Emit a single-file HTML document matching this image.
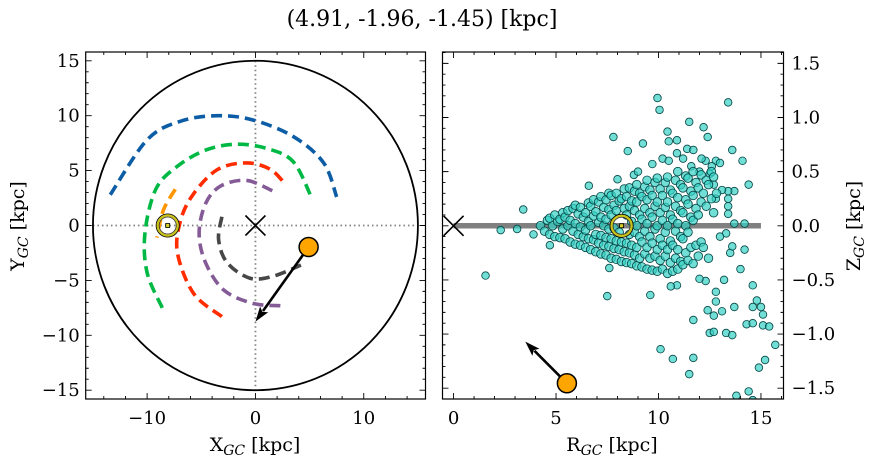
<!DOCTYPE html>
<html><head><meta charset="utf-8">
<style>
html,body{margin:0;padding:0;background:#fff;}
svg{display:block;font-family:"DejaVu Serif","Liberation Serif",serif;}
</style></head>
<body>
<svg id="fig" width="874" height="464" viewBox="0 0 874 464">
<text x="422" y="26" text-anchor="middle" font-size="22">(4.91, -1.96, -1.45) [kpc]</text>
<g id="left"></g>
<g id="right"></g>
<text x="255" y="451" text-anchor="middle" font-size="19">X<tspan font-style="italic" font-size="14" dy="4">GC</tspan><tspan dy="-4"> [kpc]</tspan></text>
<text x="612" y="451" text-anchor="middle" font-size="19">R<tspan font-style="italic" font-size="14" dy="4">GC</tspan><tspan dy="-4"> [kpc]</tspan></text>
<text transform="translate(24,226) rotate(-90)" text-anchor="middle" font-size="19">Y<tspan font-style="italic" font-size="14" dy="4">GC</tspan><tspan dy="-4"> [kpc]</tspan></text>
<text transform="translate(860,226) rotate(-90)" text-anchor="middle" font-size="19">Z<tspan font-style="italic" font-size="14" dy="4">GC</tspan><tspan dy="-4"> [kpc]</tspan></text>
</svg>
<script>
// ---- left panel data (kpc) ----
const blueX=[-13.4,-10.0,-6.9,-3.5,-0.2,3.5,6.3,7.5];
const blueY=[2.8,7.8,9.5,10.0,9.6,8.1,5.7,2.6];
const greenX=[-8.6,-10,-10.2,-9.2,-7.2,-4.5,-1.7,1.1,3.5,5.2];
const greenY=[-7.5,-4.3,-0.7,3.3,5.4,6.9,7.4,7.0,5.8,2.5];
const redX=[-3.1,-5.7,-7.2,-6.9,-5.7,-3.5,-0.8,1.4,2.8];
const redY=[-8.3,-6.2,-2.5,0.5,2.9,5.1,5.7,5.1,3.7];
const purpleX=[2.3,-0.2,-2.9,-4.6,-5.2,-4.6,-3.2,-0.8,1.7];
const purpleY=[-7.3,-7.1,-5.9,-3.4,-0.7,2.0,3.6,4.1,3.1];
const grayX=[-3.1,-3.4,-2.6,-0.5,1.7,4.2];
const grayY=[0.8,-1.3,-3.4,-4.8,-4.6,-3.6];
const orangeX=[-7.4,-8.5,-9.1];
const orangeY=[3.3,1.4,-1.1];
const sunXY=[-8.1,0];
const objXY=[4.91,-1.96];
const arrowXY=[0,-8.75];
const xTicks=[-10,0,10];
const yTicks=[-15,-10,-5,0,5,10,15];
// ---- right panel data ----
const sunRZ=[8.2,0];
const objRZ=[5.53,-1.455];
const arrowRZ=[3.5,-1.07];
const rTicks=[0,5,10,15];
const zTicks=[-1.5,-1.0,-0.5,0.0,0.5,1.0,1.5];
const starR=[9.95,10.05,13.4,11.5,7.8,10.44,12.2,10.5,10.9,12.4,9.24,8.5,13.6,10.2,10.9,11.4,11.7,9.7,14.1,14.4,8.8,6.6,3.4,2.3,3.1,3.9,4.7,1.56,14.2,13.7,14.2,14.0,14.6,14.8,14.6,13.7,15.0,15.1,14.3,14.6,15.1,15.4,15.7,15.2,14.9,14.4,14.6,13.8,13.3,13.6,12.5,12.7,13.1,12.7,12.4,12.8,12.8,13.2,12.3,12.0,11.7,11.7,11.5,10.7,10.1,9.6,7.5,7.6,10.9,10.6,13.5,13.6,13.3,13.4,13.4,13.4,13.7,13.4,13.1,
8.0,9.0,10.5,11.2,12.3,12.8,13.0,12.1,12.6,12.8,13.0,12.5,12.7,11.6,12.0];
const starZ=[1.18,1.07,1.14,0.96,0.82,0.87,0.91,0.78,0.79,0.82,0.76,0.69,0.70,0.62,0.67,0.71,0.70,0.57,0.60,0.38,0.47,0.37,0.15,-0.04,-0.03,-0.08,-0.18,-0.46,0.02,0.02,-0.22,-0.40,-0.55,-0.69,-0.75,-0.75,-0.75,-0.82,-0.91,-0.90,-0.92,-0.93,-1.10,-1.24,-1.31,-1.53,-1.61,-1.57,-0.99,-1.01,-0.99,-0.98,-0.79,-0.83,-0.78,-0.70,-0.61,-0.50,-0.51,-0.49,-0.87,-1.22,-1.37,-1.23,-1.14,-0.64,-0.65,-0.39,-0.55,-0.56,-0.25,-0.19,-0.07,0.11,0.18,0.25,0.32,0.32,0.33,
0.43,0.5,0.6,0.62,0.6,0.6,0.58,0.62,0.55,0.25,-0.1,0.48,0.38,0.55,0.5];
// dense disk cluster: one R value per row, list of Z values for that row
const clusterR=[4.3,4.5,4.75,5.0,5.25,5.5,5.75,6.0,6.25,6.5,6.75,7.0,7.25,7.5,7.75,8.0,8.25,8.5,8.75,9.0,9.25,9.5,9.75,10.0,10.25,10.5,10.75,11.0,11.25,11.5,11.75,12.0,12.25,12.5,12.75];
const clusterZ=[[0.0],[-0.05,0.05],[-0.08,0.0,0.07],[-0.1,0.04,0.1],[-0.11,-0.03,0.06,0.12],[-0.12,0.0,0.08,0.14],[-0.15,-0.05,0.05,0.16],[-0.17,-0.08,0.02,0.11,0.19],[-0.18,-0.1,-0.01,0.08,0.17],[-0.2,-0.12,-0.04,0.04,0.12,0.21],[-0.22,-0.13,0.0,0.09,0.18,0.24],[-0.24,-0.16,-0.08,0.03,0.13,0.22],[-0.26,-0.18,-0.09,0.0,0.08,0.17,0.27],[-0.27,-0.19,-0.11,-0.03,0.06,0.15,0.24,0.3],[-0.3,-0.21,-0.12,-0.02,0.1,0.19,0.28],[-0.31,-0.22,-0.14,-0.06,0.14,0.23,0.3],[-0.33,-0.24,-0.15,0.16,0.25,0.34],[-0.34,-0.25,-0.16,-0.08,0.1,0.18,0.27,0.35],[-0.35,-0.27,-0.18,-0.06,0.04,0.14,0.23,0.32],[-0.37,-0.3,-0.2,-0.1,0.0,0.1,0.22,0.3,0.38],[-0.38,-0.26,-0.15,-0.05,0.06,0.16,0.27,0.36],[-0.4,-0.3,-0.2,-0.1,0.02,0.12,0.24,0.33,0.42],[-0.41,-0.28,-0.16,-0.03,0.08,0.18,0.28,0.4],[-0.42,-0.32,-0.22,-0.12,0.0,0.12,0.22,0.34,0.44],[-0.4,-0.28,-0.18,-0.06,0.05,0.17,0.28,0.4],[-0.44,-0.34,-0.22,-0.14,0.0,0.1,0.22,0.33,0.45],[-0.42,-0.3,-0.18,-0.05,0.06,0.18,0.3,0.42],[-0.4,-0.33,-0.22,-0.1,0.02,0.14,0.26,0.38,0.5],[-0.36,-0.25,-0.12,0.0,0.12,0.24,0.35,0.46],[-0.32,-0.2,-0.06,0.08,0.2,0.32,0.44],[-0.35,-0.18,0.05,0.16,0.28,0.4,0.5],[-0.28,-0.15,0.1,0.22,0.35,0.47],[-0.2,0.18,0.3,0.42],[-0.3,0.25,0.38,0.5],[0.12,0.3,0.45]];

const NS='http://www.w3.org/2000/svg';
function mk(parent,tag,attrs){const e=document.createElementNS(NS,tag);for(const k in attrs)e.setAttribute(k,attrs[k]);parent.appendChild(e);return e;}

// ---------- LEFT ----------
const L={x0:85.7,x1:425.5,y0:52,y1:399,xmin:-15.67,xmax:15.7,ymin:-15.8,ymax:15.8};
const lx=v=>L.x0+(v-L.xmin)/(L.xmax-L.xmin)*(L.x1-L.x0);
const ly=v=>L.y1-(v-L.ymin)/(L.ymax-L.ymin)*(L.y1-L.y0);
const gl=document.getElementById('left');
let e;
e=mk(gl,'line',{x1:lx(-15),x2:lx(15),y1:ly(0),y2:ly(0),stroke:'#808080','stroke-width':1.8,'stroke-dasharray':'1.5 3'});


e=mk(gl,'line',{x1:lx(0),x2:lx(0),y1:ly(15),y2:ly(-15),stroke:'#808080','stroke-width':1.8,'stroke-dasharray':'1.5 3'});


e=mk(gl,'ellipse',{cx:lx(0),cy:ly(0),rx:lx(15)-lx(0),ry:ly(0)-ly(15),fill:'none',stroke:'#000','stroke-width':1.8});


function curve(xs,ys,col,name){
  let d='';
  for(let i=0;i<xs.length;i++){
    const px=lx(xs[i]),py=ly(ys[i]);
    if(i===0){d+='M'+px+','+py;}
    else{
      const p0=i>1?[lx(xs[i-2]),ly(ys[i-2])]:[lx(xs[i-1]),ly(ys[i-1])];
      const p1=[lx(xs[i-1]),ly(ys[i-1])];
      const p3=i<xs.length-1?[lx(xs[i+1]),ly(ys[i+1])]:[px,py];
      const c1=[p1[0]+(px-p0[0])/6,p1[1]+(py-p0[1])/6];
      const c2=[px-(p3[0]-p1[0])/6,py-(p3[1]-p1[1])/6];
      d+=' C'+c1[0]+','+c1[1]+' '+c2[0]+','+c2[1]+' '+px+','+py;
    }
  }
  const el=mk(gl,'path',{d:d,fill:'none',stroke:col,'stroke-width':3.6,'stroke-dasharray':'11 6'});
  
  
}
curve(blueX,blueY,'#0C5DA5','orbit-blue');
curve(greenX,greenY,'#00B945','orbit-green');
curve(redX,redY,'#FF2C00','orbit-red');
curve(purpleX,purpleY,'#845B97','orbit-purple');
curve(grayX,grayY,'#474747','orbit-gray');
curve(orangeX,orangeY,'#FF9500','orbit-orange');
function cross(g,x,y,s,name){
  const el=mk(g,'path',{d:`M${x-s},${y-s}L${x+s},${y+s}M${x-s},${y+s}L${x+s},${y-s}`,stroke:'#000','stroke-width':1.6,fill:'none'});
  
  
}
cross(gl,lx(0),ly(0),10,'galactic-center-marker');
function sun(g,x,y,name){
  const s=mk(g,'g',{});
  
  
  mk(s,'circle',{cx:x,cy:y,r:11.5,fill:'none',stroke:'#000','stroke-width':1});
  mk(s,'circle',{cx:x,cy:y,r:10,fill:'none',stroke:'#c9c21a','stroke-width':2.4});
  mk(s,'circle',{cx:x,cy:y,r:8.5,fill:'none',stroke:'#333','stroke-width':0.8});
  mk(s,'rect',{x:x-2,y:y-2,width:4,height:4,fill:'#d6d02a',stroke:'#000','stroke-width':0.8});
}
sun(gl,lx(sunXY[0]),ly(sunXY[1]),'sun-marker');
function arrow(g,x1,y1,x2,y2,name){
  const a=mk(g,'g',{});
  
  
  const ang=Math.atan2(y2-y1,x2-x1),h=13,w=5;
  const bx=x2-h*Math.cos(ang),by=y2-h*Math.sin(ang);
  mk(a,'line',{x1:x1,y1:y1,x2:bx,y2:by,stroke:'#000','stroke-width':2.6});
  const nx=-Math.sin(ang),ny=Math.cos(ang);
  mk(a,'path',{d:`M${x2},${y2}L${bx+nx*w-2*Math.cos(ang)},${by+ny*w-2*Math.sin(ang)}L${bx+1*Math.cos(ang)},${by+1*Math.sin(ang)}L${bx-nx*w-2*Math.cos(ang)},${by-ny*w-2*Math.sin(ang)}Z`,fill:'#000'});
}
arrow(gl,lx(objXY[0]),ly(objXY[1]),lx(arrowXY[0]),ly(arrowXY[1]),'velocity-arrow-xy');
e=mk(gl,'circle',{cx:lx(objXY[0]),cy:ly(objXY[1]),r:9.5,fill:'#FFA500',stroke:'#000','stroke-width':1.5});



function frame(g,P,fx,fy,xmaj,xmin,ymaj,ymin,xlab,ylabs,ylabSide,fmtY){
  const f=mk(g,'rect',{x:P.x0,y:P.y0,width:P.x1-P.x0,height:P.y1-P.y0,fill:'none',stroke:'#000','stroke-width':1.2});
  
  
  let d='';
  for(let v=Math.ceil(P.xmin/xmin)*xmin;v<=P.xmax+1e-9;v+=xmin){const x=fx(v);const maj=Math.abs(v/xmaj-Math.round(v/xmaj))<1e-6;const t=maj?6:3;d+=`M${x},${P.y1}v${-t}M${x},${P.y0}v${t}`;}
  for(let v=Math.ceil(P.ymin/ymin)*ymin;v<=P.ymax+1e-9;v+=ymin){const y=fy(v);const maj=Math.abs(v/ymaj-Math.round(v/ymaj))<1e-6;const t=maj?6:3;d+=`M${P.x0},${y}h${t}M${P.x1},${y}h${-t}`;}
  const tk=mk(g,'path',{d:d,stroke:'#000','stroke-width':0.9,fill:'none'});
  
  
  xlab.forEach(v=>{const t=mk(g,'text',{x:fx(v),y:P.y1+25,'text-anchor':'middle','font-size':18});t.textContent=String(v).replace('-','\u2212');
    
    });
  ylabs.forEach(v=>{const t=mk(g,'text',{x:ylabSide==='left'?P.x0-6:P.x1+8,y:fy(v)+6,'text-anchor':ylabSide==='left'?'end':'start','font-size':18});t.textContent=fmtY(v);
    
    });
}
frame(gl,L,lx,ly,10,2,5,1,xTicks,yTicks,'left',v=>String(v).replace('-','\u2212'));

// ---------- RIGHT ----------
const R={x0:442.5,x1:783.5,y0:52,y1:399,xmin:-0.54,xmax:16.1,ymin:-1.6,ymax:1.605};
const rx=v=>R.x0+(v-R.xmin)/(R.xmax-R.xmin)*(R.x1-R.x0);
const ry=v=>R.y1-(v-R.ymin)/(R.ymax-R.ymin)*(R.y1-R.y0);
const gr=document.getElementById('right');
const cp=mk(gr,'clipPath',{id:'rclip'});
mk(cp,'rect',{x:R.x0,y:R.y0,width:R.x1-R.x0,height:R.y1-R.y0});
const inner=mk(gr,'g',{'clip-path':'url(#rclip)'});


e=mk(inner,'line',{x1:rx(0),x2:rx(15),y1:ry(0),y2:ry(0),stroke:'#808080','stroke-width':5.5});


function star(R0,Z0,rad){
  const c=mk(inner,'circle',{cx:rx(R0),cy:ry(Z0),r:rad,fill:'rgba(52,210,196,0.7)',stroke:'#084848','stroke-width':0.85});
  
  
}
for(let i=0;i<starR.length;i++) star(starR[i],starZ[i],3.8);
for(let i=0;i<clusterR.length;i++){
  for(let j=0;j<clusterZ[i].length;j++){
    star(clusterR[i]+((j%2)?0.08:-0.06),clusterZ[i][j],4.3);
  }
}
const gr2=mk(gr,'g',{});
cross(gr2,rx(0),ry(0),10,'galactic-center-marker-rz');
sun(gr2,rx(sunRZ[0]),ry(sunRZ[1]),'sun-marker-rz');
arrow(gr2,rx(objRZ[0]),ry(objRZ[1]),rx(arrowRZ[0]),ry(arrowRZ[1]),'velocity-arrow-rz');
e=mk(gr2,'circle',{cx:rx(objRZ[0]),cy:ry(objRZ[1]),r:9.5,fill:'#FFA500',stroke:'#000','stroke-width':1.5});


frame(gr,R,rx,ry,5,1,0.5,0.1,rTicks,zTicks,'right',v=>v.toFixed(1).replace('-','\u2212'));
</script>
</body></html>
